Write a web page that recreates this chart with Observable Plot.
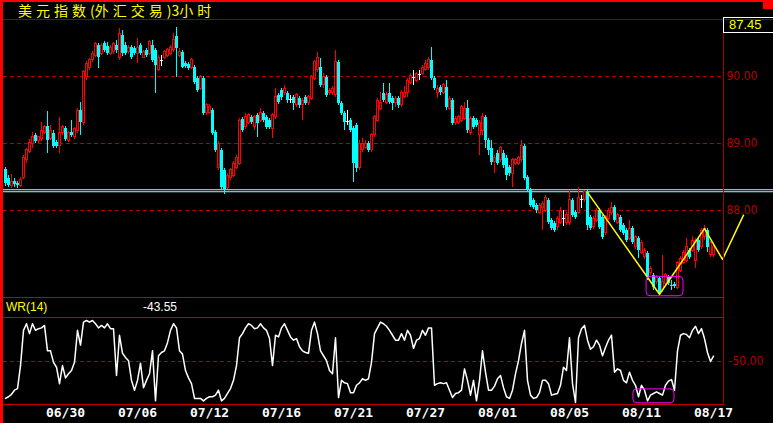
<!DOCTYPE html>
<html><head><meta charset="utf-8">
<script src="https://cdn.jsdelivr.net/npm/d3@7"></script>
<script src="https://cdn.jsdelivr.net/npm/@observablehq/plot@0.6"></script>
<style>
html,body{margin:0;padding:0;background:#000;}
#wrap{position:relative;width:773px;height:423px;background:#000;overflow:hidden;}
#plots svg{position:absolute;left:0;top:0;}
.abs{position:absolute;}
.cj{letter-spacing:4px;}
</style></head><body>
<div id="wrap">
  <div id="plots" class="abs" style="left:0;top:0;width:773px;height:423px;"></div>
  <div class="abs" style="left:3px;top:19px;width:770px;height:1px;background:#900000"></div>
  <div class="abs" style="left:723px;top:19px;width:1px;height:386px;background:#a00000"></div>
  <div class="abs" style="left:3px;top:297px;width:720px;height:1px;background:#c00000"></div>
  <div class="abs" style="left:3px;top:317px;width:720px;height:1px;background:#c00000"></div>
  <div class="abs" style="left:3px;top:404px;width:720px;height:1px;background:#c00000"></div>
  <div class="abs" style="left:0;top:0;width:773px;height:2px;background:#ff0000"></div>
  <div class="abs" style="left:0;top:0;width:3px;height:423px;background:#ff0000"></div>
  <div class="abs" style="left:763px;top:0;width:10px;height:9px;background:#ff0000"></div>
  <div class="abs" style="left:18px;top:0px;color:#ffff00;font:14px 'Noto Sans CJK SC';white-space:nowrap;"><span class="cj">美元指数</span>(<span class="cj">外汇交易</span>)3<span class="cj">小时</span></div>
  <div id="lastBox" class="abs" style="left:723px;top:17px;width:50px;height:16px;box-sizing:border-box;border:1px solid #fff;border-right:none;color:#ffff00;font:13px 'Liberation Sans';line-height:14px;padding-left:5px;"></div>
  <div class="abs" style="left:6px;top:300px;color:#ffff00;font:12px 'Liberation Sans';">WR(14)</div>
  <div id="wrLast" class="abs" style="left:143px;top:300px;color:#fff;font:12px 'Liberation Sans';"></div>
</div>
<script>
const open = [
88.61,88.48,88.36,88.43,88.40,88.37,88.49,88.75,88.88,88.99,
89.12,89.03,89.06,89.16,89.25,89.07,89.15,89.01,88.97,89.15,
89.22,89.04,89.16,89.09,89.19,89.49,89.30,90.00,90.13,90.24,
90.31,90.46,90.34,90.49,90.45,90.34,90.37,90.46,90.27,90.61,
90.46,90.36,90.43,90.42,90.34,90.46,90.28,90.39,90.34,90.46,
90.39,90.10,90.24,90.28,90.31,90.34,90.39,90.60,90.31,90.36,
90.19,90.18,90.13,90.13,89.97,89.82,89.97,89.45,89.46,89.49,
89.16,88.63,88.90,88.60,88.34,88.48,88.52,88.64,88.70,89.36,
89.24,89.31,89.39,89.24,89.42,89.34,89.45,89.39,89.34,89.22,
89.39,89.72,89.79,89.75,89.75,89.66,89.69,89.57,89.67,89.57,
89.69,89.60,89.67,89.97,90.09,90.13,89.87,89.99,89.75,89.75,
89.72,90.21,89.60,89.45,89.33,89.34,89.22,89.27,88.63,88.90,
88.94,89.00,88.90,89.12,89.34,89.52,89.75,89.61,89.75,89.67,
89.60,89.67,89.57,89.69,89.75,89.91,89.99,89.94,90.03,90.04,
90.10,90.12,90.24,89.97,89.75,89.84,89.76,89.84,89.52,89.64,
89.30,89.31,89.34,89.37,89.52,89.16,89.37,89.34,89.12,89.19,
89.39,89.04,88.93,88.72,88.85,88.75,88.85,88.78,88.64,88.55,
88.70,88.70,88.75,88.96,88.49,88.30,88.15,88.07,87.97,88.03,
88.00,88.15,87.85,87.81,87.75,87.82,87.88,87.82,87.81,88.15,
87.97,87.97,88.16,88.15,88.27,87.90,87.75,87.85,88.00,87.90,
87.66,87.88,87.96,88.04,87.82,87.90,87.78,87.70,87.58,87.73,
87.45,87.58,87.37,87.30,87.36,87.06,87.03,86.93,86.99,86.81,
86.91,87.00,86.88,86.90,86.85,87.10,87.22,87.25,87.40,87.40,
87.25,87.55,87.45,87.60,87.70,87.33,87.33];
const high = [
88.64,88.52,88.54,88.48,88.43,88.49,88.82,88.93,89.06,89.16,
89.15,89.10,89.31,89.27,89.48,89.27,89.19,89.04,89.39,89.27,
89.25,89.18,89.34,89.24,89.52,89.61,90.09,90.22,90.27,90.37,
90.51,90.49,90.49,90.52,90.51,90.46,90.51,90.54,90.72,90.69,
90.51,90.46,90.46,90.45,90.57,90.49,90.39,90.42,90.54,90.54,
90.42,90.31,90.31,90.39,90.42,90.46,90.64,90.73,90.42,90.39,
90.22,90.21,90.27,90.16,90.00,90.01,90.00,89.60,89.58,89.52,
89.19,89.03,88.93,88.63,88.55,88.63,88.73,88.82,89.37,89.39,
89.45,89.45,89.42,89.42,89.45,89.52,89.48,89.42,89.37,89.45,
89.82,89.75,89.82,89.87,89.78,89.72,89.72,89.75,89.70,89.67,
89.72,89.72,90.01,90.24,90.36,90.27,90.04,90.01,89.82,89.85,
90.39,90.24,89.63,89.48,89.49,89.37,89.25,89.30,89.04,89.07,
89.04,89.03,89.15,89.42,89.67,89.76,89.90,89.76,89.90,89.70,
89.70,89.70,89.79,89.85,89.97,90.04,90.09,90.06,90.09,90.16,
90.24,90.28,90.43,90.00,89.87,89.87,89.90,89.94,89.70,89.67,
89.40,89.42,89.57,89.61,89.64,89.40,89.40,89.37,89.34,89.45,
89.42,89.07,89.04,88.82,88.90,88.96,88.90,88.82,88.67,88.78,
88.78,88.81,89.04,88.99,88.52,88.33,88.18,88.10,88.10,88.13,
88.22,88.18,87.88,87.84,87.91,88.04,88.00,87.97,88.30,88.18,
88.00,88.34,88.22,88.30,88.30,87.93,87.91,88.03,88.03,87.93,
87.93,88.03,88.12,88.07,87.96,87.93,87.81,87.73,87.85,87.76,
87.63,87.61,87.55,87.43,87.39,87.16,87.06,87.03,87.01,87.33,
87.06,87.03,86.96,86.93,87.24,87.31,87.40,87.58,87.43,87.61,
87.58,87.58,87.73,87.78,87.73,87.54,87.48];
const low = [
88.36,88.34,88.33,88.34,88.33,88.34,88.46,88.70,88.85,88.93,
89.00,89.00,89.03,89.13,88.85,89.04,88.93,88.93,88.85,89.12,
89.03,89.01,89.09,89.06,89.15,89.12,89.27,89.94,90.09,90.21,
90.28,90.12,90.31,90.36,90.31,90.31,90.33,90.34,90.24,90.30,
90.31,90.33,90.25,90.31,90.19,90.31,90.27,90.28,90.31,90.21,
89.75,90.07,90.15,90.25,90.28,90.31,90.36,89.99,90.28,90.12,
90.12,90.09,90.10,89.88,89.76,89.79,89.42,89.42,89.43,89.12,
88.87,88.60,88.31,88.24,88.31,88.45,88.49,88.61,88.67,89.16,
89.21,89.28,89.28,89.19,89.09,89.31,89.31,89.21,89.21,89.07,
89.36,89.58,89.64,89.72,89.60,89.60,89.49,89.54,89.52,89.34,
89.57,89.57,89.64,89.94,90.06,89.84,89.82,89.69,89.72,89.72,
89.69,89.57,89.42,89.19,89.27,89.16,88.42,88.57,88.60,88.87,
88.91,88.87,88.87,89.09,89.31,89.49,89.61,89.58,89.58,89.49,
89.54,89.52,89.54,89.67,89.69,89.88,89.87,89.91,89.94,90.01,
90.07,90.09,89.94,89.79,89.67,89.72,89.73,89.49,89.49,89.27,
89.27,89.28,89.31,89.34,89.15,89.12,89.21,89.24,88.82,89.12,
88.93,88.82,88.67,88.55,88.67,88.72,88.63,88.45,88.51,88.34,
88.67,88.67,88.72,88.45,88.27,88.04,88.01,87.96,87.94,87.70,
87.97,87.79,87.70,87.67,87.70,87.79,87.76,87.78,87.78,87.90,
87.87,87.94,88.03,88.12,87.70,87.70,87.72,87.82,87.72,87.57,
87.63,87.85,87.93,87.82,87.79,87.67,87.63,87.52,87.55,87.49,
87.42,87.28,87.34,87.27,86.96,87.03,86.81,86.90,86.73,86.78,
86.88,86.88,86.81,86.84,86.82,87.07,87.19,87.22,87.27,87.37,
87.13,87.37,87.42,87.55,87.37,87.30,87.30];
const close = [
88.40,88.37,88.43,88.39,88.37,88.45,88.78,88.90,89.01,89.10,
89.03,89.09,89.19,89.24,89.04,89.18,88.96,88.96,89.15,89.24,
89.06,89.15,89.12,89.21,89.49,89.31,90.06,90.19,90.24,90.34,
90.48,90.28,90.46,90.39,90.34,90.43,90.48,90.39,90.64,90.34,
90.34,90.43,90.28,90.34,90.42,90.34,90.36,90.31,90.51,90.24,
90.16,90.28,90.24,90.36,90.39,90.42,90.55,90.42,90.36,90.13,
90.15,90.12,90.24,89.91,89.79,89.99,89.45,89.57,89.55,89.15,
88.90,89.00,88.34,88.30,88.52,88.60,88.70,88.79,89.34,89.19,
89.39,89.42,89.31,89.39,89.30,89.46,89.34,89.24,89.24,89.42,
89.69,89.61,89.69,89.82,89.64,89.66,89.60,89.72,89.57,89.64,
89.60,89.69,89.99,90.21,90.28,89.87,90.00,89.72,89.79,89.82,
90.21,89.60,89.45,89.31,89.33,89.19,88.70,88.63,89.00,89.00,
89.00,88.90,89.12,89.39,89.64,89.61,89.64,89.72,89.61,89.60,
89.67,89.57,89.75,89.76,89.94,90.01,89.99,90.04,90.03,90.13,
90.19,90.25,89.97,89.82,89.82,89.76,89.87,89.54,89.67,89.30,
89.37,89.39,89.54,89.52,89.19,89.37,89.24,89.27,89.31,89.39,
89.04,88.90,88.72,88.78,88.70,88.93,88.67,88.52,88.55,88.75,
88.75,88.78,88.97,88.48,88.30,88.07,88.04,88.00,88.07,88.10,
88.19,87.82,87.73,87.70,87.88,88.00,87.88,87.93,88.15,87.93,
87.90,88.19,88.16,88.27,87.78,87.73,87.88,88.00,87.75,87.60,
87.90,88.00,88.03,87.85,87.93,87.70,87.66,87.55,87.73,87.52,
87.60,87.40,87.51,87.40,87.00,87.13,86.85,87.00,86.76,86.93,
87.03,86.91,86.87,86.87,87.21,87.28,87.37,87.45,87.30,87.55,
87.55,87.40,87.70,87.73,87.45,87.51,87.45];
const wr = [
-95,-93,-90,-85,-83,-55,-12,-4,-16,-4,
-12,-10,-9,-6,-37,-37,-51,-57,-77,-55,
-70,-65,-61,-51,-12,-30,-2,0,-2,0,
-4,-9,-6,-9,-4,-10,-10,-67,-18,-40,
-45,-49,-73,-85,-73,-52,-82,-73,-65,-37,
-98,-43,-39,-37,-27,-12,-4,-9,-37,-41,
-61,-70,-77,-95,-95,-95,-98,-95,-93,-93,
-91,-85,-98,-95,-89,-83,-73,-55,-21,-16,
-9,-4,-6,-10,-9,-4,-9,-12,-22,-55,
-18,-20,-9,-4,-12,-20,-24,-22,-32,-37,
-39,-40,-12,-2,-16,-37,-43,-49,-61,-65,
-21,-94,-73,-76,-77,-88,-88,-79,-76,-71,
-73,-71,-51,-16,-9,-2,-4,-7,-12,-18,
-24,-24,-16,-24,-12,-18,-34,-24,-22,-12,
-18,-9,-9,-79,-77,-76,-77,-76,-85,-94,
-89,-88,-85,-59,-73,-91,-73,-98,-73,-37,
-63,-85,-85,-80,-71,-67,-82,-93,-95,-85,
-65,-49,-28,-12,-73,-91,-95,-94,-88,-73,
-73,-77,-91,-90,-89,-79,-57,-61,-21,-77,
-100,-21,-10,-6,-24,-35,-32,-24,-30,-43,
-33,-24,-18,-63,-59,-61,-73,-76,-63,-73,
-79,-93,-79,-85,-98,-91,-89,-87,-89,-91,
-79,-74,-72,-85,-37,-18,-16,-17,-21,-12,
-7,-16,-10,-22,-39,-50,-43.55];
const dateIdx = [20,44,68,92,116,140,164,188,212,236];
const dateLabels = ["06/30","07/06","07/12","07/16","07/21","07/27","08/01","08/05","08/11","08/17"];
const priceTicks = [88,89,90];
const wrTicks = [-50];
const hLines = [88.31,88.28];
const zigIdx = [194,218,233,239,246];
const zigVal = [88.27,86.75,87.73,87.27,87.93];
const boxMainX = [213.7,226], boxMainY = [86.72,87.01];
const boxWrX = [209.3,223], boxWrY = [-101,-84];

const bars = close.map((c,i)=>({i, o:open[i], h:high[i], l:low[i], c}));
const up = bars.filter(d=>d.c>d.o), dn = bars.filter(d=>d.c<d.o), dj = bars.filter(d=>d.c===d.o);
const zz = zigIdx.map((x,k)=>({x, v:zigVal[k]}));
const wrData = wr.map((v,i)=>({i,v}));
const X = {type:"linear", domain:[0,236], range:[5,713], axis:null};
const numFont = "'DejaVu Sans Condensed','Liberation Sans',sans-serif";
const gridRed = "#b40000";

const main = Plot.plot({
  width:773, height:423, marginLeft:3, marginRight:50, marginTop:19, marginBottom:126,
  style:{background:"transparent"},
  x: X,
  y: {domain:[88,90], range:[210,76], axis:null},
  marks:[
    Plot.ruleY(priceTicks, {y:d=>d, stroke:gridRed, strokeDasharray:"4,3"}),
    Plot.text(priceTicks, {y:d=>d, text:d=>d.toFixed(2), frameAnchor:"right", textAnchor:"start", dx:3, fill:gridRed, fontSize:12, fontFamily:numFont}),
    Plot.ruleY(hLines, {y:d=>d, x1:d=>-1, x2:d=>256, stroke:"#a0ffff"}),
    Plot.ruleX(up, {x:"i", y1:"l", y2:"h", stroke:"#ff0000", shapeRendering:"crispEdges"}),
    Plot.ruleX(dn, {x:"i", y1:"l", y2:"h", stroke:"#00ffff", shapeRendering:"crispEdges"}),
    Plot.ruleX(dj, {x:"i", y1:"l", y2:"h", stroke:"#ffffff", shapeRendering:"crispEdges"}),
    Plot.rect(dn, {x1:d=>d.i-0.5, x2:d=>d.i+0.5, y1:"o", y2:"c", fill:"#00ffff", shapeRendering:"crispEdges"}),
    Plot.rect(up, {x1:d=>d.i-1/3, x2:d=>d.i+1/3, y1:"o", y2:"c", fill:"#000", stroke:"#ff0000", shapeRendering:"crispEdges"}),
    Plot.link(dj, {x1:d=>d.i-0.5, x2:d=>d.i+0.5, y1:"c", y2:"c", stroke:"#ffffff", shapeRendering:"crispEdges"}),
    Plot.line(zz, {x:"x", y:"v", stroke:"#ffff00"}),
    Plot.rect([0], {x1:()=>boxMainX[0], x2:()=>boxMainX[1], y1:()=>boxMainY[0], y2:()=>boxMainY[1], fill:"none", stroke:"#ff00ff", rx:4})
  ]
});

const wrPlot = Plot.plot({
  width:773, height:423, marginLeft:3, marginRight:50, marginTop:317, marginBottom:19,
  style:{background:"transparent"},
  x: X,
  y: {domain:[0,-100], range:[320,402], axis:null},
  marks:[
    Plot.ruleY(wrTicks, {y:d=>d, stroke:gridRed, strokeDasharray:"4,3"}),
    Plot.text(wrTicks, {y:d=>d, text:d=>d.toFixed(2), frameAnchor:"right", textAnchor:"start", dx:5, fill:gridRed, fontSize:12, fontFamily:numFont}),
    Plot.line(wrData, {x:"i", y:"v", stroke:"#ffffff"}),
    Plot.rect([0], {x1:()=>boxWrX[0], x2:()=>boxWrX[1], y1:()=>boxWrY[0], y2:()=>boxWrY[1], fill:"none", stroke:"#ff00ff", rx:4}),
    Plot.text(dateIdx, {x:d=>d, text:(d,k)=>dateLabels[k], frameAnchor:"bottom", dy:12, fill:"#ffffff", fontWeight:"bold", fontSize:13, fontFamily:"'DejaVu Sans Mono',monospace"})
  ]
});

document.getElementById("plots").append(main, wrPlot);
document.getElementById("lastBox").textContent = close[close.length-1].toFixed(2);
document.getElementById("wrLast").textContent = wr[wr.length-1].toFixed(2);
</script>
</body></html>
